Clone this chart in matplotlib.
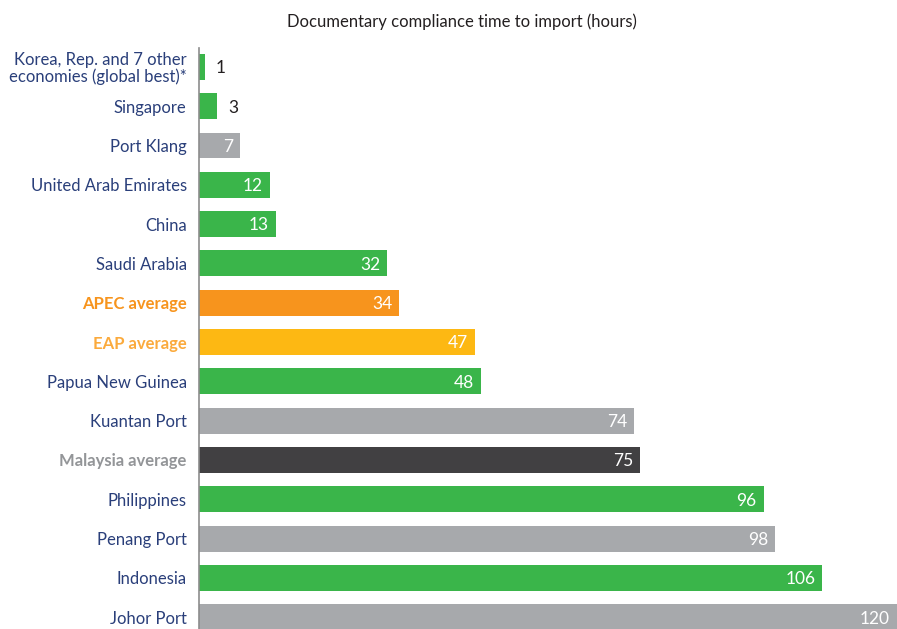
import matplotlib.pyplot as plt
from matplotlib import font_manager

names = [
    "Korea, Rep. and 7 other\neconomies (global best)*",
    "Singapore",
    "Port Klang",
    "United Arab Emirates",
    "China",
    "Saudi Arabia",
    "APEC average",
    "EAP average",
    "Papua New Guinea",
    "Kuantan Port",
    "Malaysia average",
    "Philippines",
    "Penang Port",
    "Indonesia",
    "Johor Port",
]
hours = [1, 3, 7, 12, 13, 32, 34, 47, 48, 74, 75, 96, 98, 106, 120]
groups = ["econ", "econ", "port", "econ", "econ", "econ", "apec", "eap",
          "econ", "port", "malaysia", "econ", "port", "econ", "port"]

bar_colors = {"econ": "#3AB54A", "port": "#A7A9AC", "apec": "#F7941D",
              "eap": "#FDB813", "malaysia": "#414042"}
label_colors = {"econ": "#2A3F7A", "port": "#2A3F7A", "apec": "#F7941D",
                "eap": "#FBAA3C", "malaysia": "#939598"}

available = {f.name for f in font_manager.fontManager.ttflist}
family = "Lato" if "Lato" in available else "Open Sans"
plt.rcParams["font.family"] = family

fig = plt.figure(figsize=(8.97, 6.29), dpi=100)
ax = fig.add_axes([0.222, 0.0, 0.778, 0.9237])

y = list(range(len(hours)))
ax.barh(y, hours, height=0.66, color=[bar_colors[g] for g in groups])

ax.set_xlim(0, 118.7)
ax.set_ylim(14.3, -0.48)

# value labels: outside for the tiny bars, inside (white) otherwise
for yi, v in zip(y, hours):
    if v < 5:
        ax.annotate(str(v), (v, yi), xytext=(8, -1), textcoords="offset points",
                    ha="left", va="center", fontsize=12.5, color="#231F20")
    else:
        ax.annotate(str(v), (min(v, 118.7), yi), xytext=(-5, -1), textcoords="offset points",
                    ha="right", va="center", fontsize=12.5, color="white")

ax.set_yticks(y)
ax.set_yticklabels(names, fontsize=12, linespacing=1.0)
for tick, g in zip(ax.get_yticklabels(), groups):
    tick.set_color(label_colors[g])
    if g in ("apec", "eap", "malaysia"):
        tick.set_fontweight("bold")
ax.tick_params(axis="y", length=0, pad=9)
ax.set_xticks([])

for side in ["top", "right", "bottom"]:
    ax.spines[side].set_visible(False)
ax.spines["left"].set_color("#8C8C8C")
ax.spines["left"].set_linewidth(1.2)

fig.text(0.515, 0.965, "Documentary compliance time to import (hours)",
         ha="center", va="center", fontsize=12, color="#231F20")

fig.savefig("out.png", dpi=100)
